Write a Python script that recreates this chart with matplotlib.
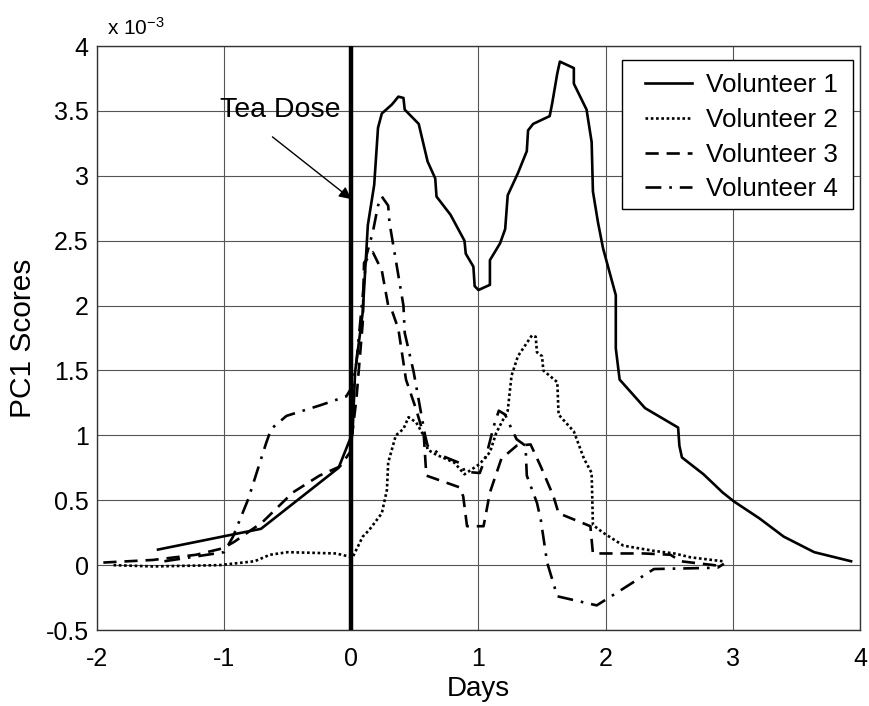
import matplotlib
matplotlib.use("Agg")
import matplotlib.pyplot as plt
from matplotlib.patches import Rectangle

plt.rcParams['font.family'] = ['Liberation Sans', 'DejaVu Sans']
plt.rcParams['axes.unicode_minus'] = False
plt.rcParams['mathtext.default'] = 'regular'

v1_x = [-1.52, -0.71, -0.10, 0.01, 0.03, 0.09, 0.13, 0.18, 0.21, 0.24, 0.32, 0.37, 0.41, 0.42, 0.53, 0.60, 0.66, 0.67, 0.78, 0.89, 0.90, 0.96, 0.97, 1.00, 1.09, 1.09, 1.17, 1.21, 1.23, 1.31, 1.38, 1.39, 1.43, 1.56, 1.58, 1.62, 1.64, 1.75, 1.75, 1.85, 1.89, 1.90, 1.94, 1.98, 2.08, 2.08, 2.11, 2.31, 2.57, 2.58, 2.60, 2.77, 2.92, 3.01, 3.21, 3.40, 3.64, 3.93]
v1_y = [0.12, 0.28, 0.75, 1.02, 1.49, 1.95, 2.62, 2.93, 3.37, 3.48, 3.55, 3.61, 3.60, 3.51, 3.40, 3.11, 2.98, 2.84, 2.70, 2.50, 2.40, 2.30, 2.15, 2.12, 2.16, 2.35, 2.48, 2.59, 2.85, 3.02, 3.19, 3.35, 3.40, 3.46, 3.56, 3.79, 3.88, 3.83, 3.71, 3.51, 3.26, 2.88, 2.64, 2.44, 2.08, 1.67, 1.43, 1.21, 1.06, 0.92, 0.83, 0.70, 0.56, 0.49, 0.36, 0.22, 0.10, 0.03]

v2_x = [-1.87, -1.56, -1.04, -0.76, -0.64, -0.50, -0.12, 0.01, 0.09, 0.14, 0.24, 0.28, 0.29, 0.35, 0.41, 0.45, 0.51, 0.58, 0.60, 0.67, 0.81, 0.89, 1.01, 1.09, 1.14, 1.23, 1.26, 1.31, 1.42, 1.45, 1.46, 1.50, 1.51, 1.62, 1.63, 1.75, 1.83, 1.89, 1.90, 1.98, 2.14, 2.38, 2.54, 2.67, 2.92]
v2_y = [0.00, -0.01, 0.00, 0.03, 0.08, 0.10, 0.09, 0.06, 0.22, 0.27, 0.40, 0.58, 0.79, 1.00, 1.05, 1.14, 1.10, 0.98, 0.89, 0.85, 0.79, 0.70, 0.78, 0.87, 1.02, 1.19, 1.46, 1.61, 1.77, 1.76, 1.64, 1.61, 1.50, 1.41, 1.16, 1.03, 0.82, 0.71, 0.31, 0.25, 0.15, 0.11, 0.09, 0.06, 0.03]

v3_x = [-1.95, -1.56, -1.22, -1.01, -0.92, -0.70, -0.46, -0.25, -0.09, -0.01, 0.04, 0.09, 0.10, 0.17, 0.20, 0.24, 0.29, 0.32, 0.37, 0.43, 0.51, 0.57, 0.59, 0.85, 0.88, 0.91, 1.04, 1.09, 1.18, 1.30, 1.41, 1.49, 1.59, 1.63, 1.88, 1.90, 2.30, 2.51, 2.59, 2.85, 2.92]
v3_y = [0.02, 0.04, 0.08, 0.13, 0.18, 0.33, 0.56, 0.69, 0.76, 0.87, 1.28, 1.87, 2.33, 2.41, 2.35, 2.27, 2.00, 1.96, 1.82, 1.43, 1.20, 1.00, 0.69, 0.60, 0.53, 0.30, 0.30, 0.56, 0.82, 0.92, 0.93, 0.76, 0.53, 0.40, 0.30, 0.09, 0.09, 0.08, 0.03, 0.00, -0.01]

v4_x = [-1.47, -1.00, -0.93, -0.81, -0.67, -0.63, -0.51, -0.25, -0.04, 0.01, 0.04, 0.12, 0.17, 0.21, 0.24, 0.29, 0.30, 0.41, 0.42, 0.49, 0.58, 0.60, 0.72, 0.87, 0.89, 1.01, 1.06, 1.12, 1.16, 1.21, 1.26, 1.30, 1.37, 1.38, 1.46, 1.49, 1.54, 1.62, 1.93, 2.14, 2.38, 2.88, 2.93]
v4_y = [0.03, 0.10, 0.22, 0.51, 0.94, 1.05, 1.15, 1.23, 1.30, 1.38, 1.56, 2.39, 2.57, 2.77, 2.84, 2.77, 2.64, 2.00, 1.79, 1.49, 1.00, 0.92, 0.84, 0.78, 0.72, 0.71, 0.84, 1.07, 1.19, 1.16, 1.05, 0.97, 0.92, 0.69, 0.48, 0.35, 0.02, -0.24, -0.31, -0.18, -0.03, -0.02, 0.01]

labels = ["Volunteer 1", "Volunteer 2", "Volunteer 3", "Volunteer 4"]
x_ticks = [-2, -1, 0, 1, 2, 3, 4]
y_ticks = [-0.5, 0, 0.5, 1, 1.5, 2, 2.5, 3, 3.5, 4]
y_ticklabels = ["-0.5", "0", "0.5", "1", "1.5", "2", "2.5", "3", "3.5", "4"]

fig = plt.figure(figsize=(8.69, 7.06), dpi=100)
ax = fig.add_axes([0.1116, 0.1076, 0.878, 0.8272])

ax.plot(v1_x, v1_y, color='black', lw=1.9, ls='-', label=labels[0])
ax.plot(v2_x, v2_y, color='black', lw=1.9, ls=(0, (1, 1)), label=labels[1])
ax.plot(v3_x, v3_y, color='black', lw=1.9, ls=(0, (5, 3)), label=labels[2])
ax.plot(v4_x, v4_y, color='black', lw=1.9, ls=(0, (6, 3, 1, 3)), label=labels[3])

ax.axvline(0, color='black', lw=3.2, zorder=5)

ax.set_xlim(-2, 4)
ax.set_ylim(-0.5, 4)
ax.set_xticks(x_ticks)
ax.set_yticks(y_ticks)
ax.set_yticklabels(y_ticklabels)
ax.tick_params(length=0, labelsize=18)
ax.tick_params(axis='x', pad=12)
ax.tick_params(axis='y', pad=6)
ax.grid(True, color='#555555', lw=0.8)
ax.set_axisbelow(True)
for s in ax.spines.values():
    s.set_color('#333333')
    s.set_linewidth(1.0)

ax.set_xlabel("Days", fontsize=20, labelpad=4)
ax.set_ylabel("PC1 Scores", fontsize=21.5, labelpad=6)
ax.text(0.013, 1.019, r"x 10$^{-3}$", transform=ax.transAxes, fontsize=15, ha='left', va='baseline')

ax.text(-0.56, 3.51, "Tea Dose", fontsize=20.5, ha='center', va='center')
ax.annotate("", xy=(0.0, 2.82), xytext=(-0.62, 3.30),
            arrowprops=dict(arrowstyle='-|>', color='black', lw=1.0, mutation_scale=18,
                            shrinkA=0, shrinkB=0))

# legend frame drawn as its own rectangle
ax.add_patch(Rectangle((0.688, 0.721), 0.303, 0.255, transform=ax.transAxes,
                       facecolor='white', edgecolor='black', lw=1.0, zorder=9))
leg = ax.legend(loc='upper left', fontsize=18.7, frameon=False,
                handlelength=1.8, handletextpad=0.55,
                borderpad=0.0, labelspacing=0.41, borderaxespad=0,
                bbox_to_anchor=(0.718, 0.953))
leg.set_zorder(10)

fig.savefig("out.png", dpi=100)
